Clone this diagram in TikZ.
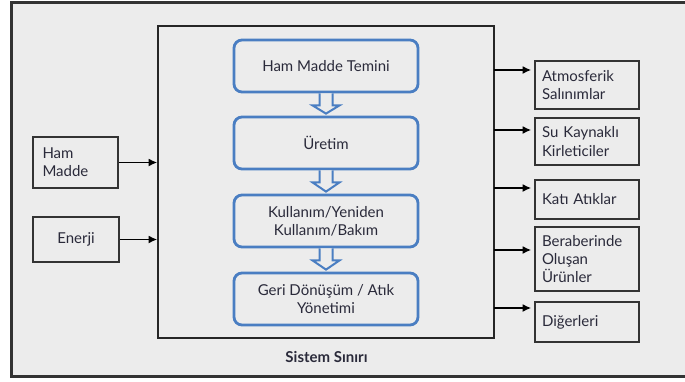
\documentclass[tikz,border=0pt]{standalone}
\usepackage{fontspec}
\setmainfont{Lato}
\usetikzlibrary{calc,arrows.meta}

\definecolor{bgray}{HTML}{ECECEC}
\definecolor{sblue}{HTML}{4A7EC2}
\definecolor{txt}{HTML}{2A2A3A}

\tikzset{
  stage/.style={draw=sblue, line width=2.8pt, rounded corners=8pt, fill=bgray,
    minimum width=184, minimum height=52, align=center, text=txt},
  flowbox/.style={draw=black!80, line width=1.6pt, fill=bgray, text=txt,
    inner xsep=7pt, align=left},
  blockarrow/.style={draw=sblue, line width=2pt, fill=bgray, line join=miter},
  outarrow/.style={line width=1.8pt, -{Latex[length=8.5pt,width=8pt]}}
}

\begin{document}
\begin{tikzpicture}[x=1pt, y=-1pt, font=\fontsize{15}{18.3}\selectfont]
\useasboundingbox (0,0) rectangle (685,381);

% frame
\fill[bgray] (11.5,2.5) rectangle (685,376.5);
\draw[black!80, line width=2.2pt] (685,2.5) -- (11.5,2.5) -- (11.5,376.5) -- (685,376.5);

% system boundary
\node[draw=black!85, line width=1.6pt, minimum width=336, minimum height=312] (sys) at (326,182) {};
\node[text=txt] (sinir) at (326.5,357) {\bfseries Sistem Sınırı};

% stages
\node[stage] (tem) at (326,66) {Ham Madde Temini};
\node[stage] (ure) at (326,143) {Üretim};
\node[stage] (kul) at (326,221) {Kullanım/Yeniden\\Kullanım/Bakım};
\node[stage] (geri) at (326,299) {Geri Dönüşüm / Atık\\Yönetimi};

\foreach \a/\b in {tem/ure, ure/kul, kul/geri} {
  \draw[blockarrow] ($(\a.south)+(-6.5,0)$) -- ($(\a.south)+(-6.5,12)$) -- ($(\a.south)+(-13.5,12)$)
    -- ($(\b.north)+(0,-2)$) -- ($(\a.south)+(13.5,12)$) -- ($(\a.south)+(6.5,12)$) -- ($(\a.south)+(6.5,0)$);
}

% inputs
\node[flowbox, minimum width=85, minimum height=51, text width=66] (ham) at (75.5,162.5) {Ham\\Madde};
\node[flowbox, minimum width=86, minimum height=45, align=center] (ene) at (76,239.5) {Enerji};

\draw[outarrow] (ham.east) -- (ham.east -| sys.west);
\draw[outarrow] (ene.east) -- (ene.east -| sys.west);

% outputs
\node[flowbox, minimum width=104, minimum height=48, text width=90] (atm) at (587,85) {Atmosferik\\Salınımlar};
\node[flowbox, minimum width=104, minimum height=47, text width=90] (su) at (587,141.5) {Su Kaynaklı\\Kirleticiler};
\node[flowbox, minimum width=104, minimum height=39, text width=90] (kati) at (587,199.5) {Katı Atıklar};
\node[flowbox, minimum width=104, minimum height=64, text width=90] (ber) at (587,259) {Beraberinde\\Oluşan\\Ürünler};
\node[flowbox, minimum width=104, minimum height=40, text width=90] (dig) at (587,322) {Diğerleri};

\coordinate (o1) at (494,70);
\coordinate (o2) at (494,130);
\coordinate (o3) at (494,188);
\coordinate (o4) at (494,250);
\coordinate (o5) at (494,308);

\draw[outarrow, shorten >=3pt] (o1) -- (o1 -| atm.west);
\draw[outarrow, shorten >=3pt] (o2) -- (o2 -| su.west);
\draw[outarrow, shorten >=3pt] (o3) -- (o3 -| kati.west);
\draw[outarrow, shorten >=3pt] (o4) -- (o4 -| ber.west);
\draw[outarrow, shorten >=3pt] (o5) -- (o5 -| dig.west);

\end{tikzpicture}
\end{document}
